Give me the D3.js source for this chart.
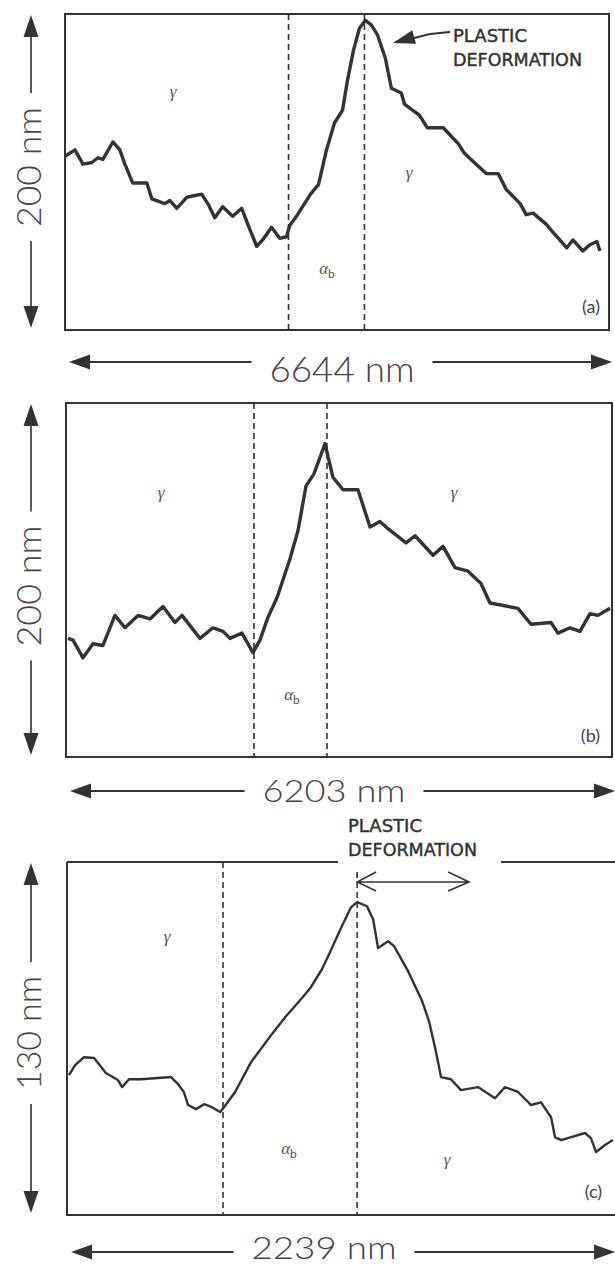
<!DOCTYPE html>
<html>
<head>
<meta charset="utf-8">
<script src="https://cdn.jsdelivr.net/npm/d3@7"></script>
<style>
  body { margin: 0; background: #fff; }
  svg { display: block; }
</style>
</head>
<body>
<div id="chart"></div>
<script>
// profile (a): distance along the scan (nm) and surface height (nm)
var aDist = [0, 122, 219, 329, 402, 463, 585, 670, 731, 828, 1000, 1060, 1219, 1280, 1365, 1487, 1670, 1755, 1829, 1926, 2048, 2158, 2255, 2341, 2414, 2523, 2621, 2706, 2743, 2840, 2999, 3096, 3194, 3291, 3389, 3450, 3523, 3596, 3669, 3742, 3815, 3913, 3986, 4108, 4145, 4328, 4425, 4620, 4803, 4876, 4998, 5144, 5290, 5388, 5559, 5632, 5717, 5876, 5958, 6129, 6203, 6325, 6410, 6496, 6533];
var aHeight = [110, 114, 105, 106, 109, 108, 119, 114, 105, 93, 93, 83, 80, 82, 77, 84, 86, 79, 71, 78, 72, 77, 64, 53, 57, 65, 58, 59, 66, 73, 86, 92, 114, 131, 139, 158, 177, 191, 196, 193, 187, 172, 153, 150, 143, 136, 128, 128, 118, 112, 106, 99, 99, 89, 80, 73, 74, 67, 62, 52, 57, 50, 54, 56, 50];
var aBounds = [2730, 3657];
var aSpan = 6644, aRange = 200;
var aXLabel = "6644 nm", aYLabel = "200 nm";

// profile (b)
var bDist = [23, 80, 193, 307, 420, 556, 670, 818, 954, 1102, 1238, 1318, 1522, 1670, 1784, 1863, 1999, 2124, 2204, 2295, 2397, 2545, 2636, 2726, 2817, 2942, 3033, 3147, 3317, 3454, 3567, 3658, 3863, 3965, 4170, 4283, 4419, 4567, 4715, 4817, 5135, 5283, 5510, 5589, 5726, 5839, 5953, 6044, 6180];
var bHeight = [67, 66, 56, 64, 63, 80, 73, 80, 78, 85, 76, 80, 67, 73, 71, 67, 70, 59, 66, 79, 90, 112, 128, 153, 160, 177, 158, 151, 151, 130, 133, 129, 121, 125, 114, 119, 107, 105, 98, 87, 84, 75, 76, 70, 73, 71, 81, 80, 84];
var bBounds = [2135, 2965];
var bSpan = 6203, bRange = 200;
var bXLabel = "6203 nm", bYLabel = "200 nm";

// profile (c)
var cDist = [8, 33, 69, 110, 158, 207, 224, 252, 301, 423, 451, 475, 492, 524, 557, 589, 622, 638, 683, 748, 829, 890, 955, 988, 1036, 1065, 1113, 1154, 1179, 1219, 1244, 1264, 1305, 1329, 1386, 1443, 1471, 1496, 1520, 1560, 1601, 1670, 1739, 1780, 1833, 1886, 1926, 1967, 1983, 2008, 2105, 2129, 2150, 2186, 2219];
var cHeight = [51.5, 55.2, 58.1, 57.8, 52.3, 49.7, 47.1, 50.0, 50.0, 50.8, 48.2, 45.3, 40.5, 39.0, 40.8, 39.7, 37.9, 39.7, 45.3, 56.3, 66.2, 73.2, 79.9, 83.5, 90.5, 96.0, 105.6, 113.3, 115.2, 113.7, 108.9, 98.3, 100.8, 99.0, 89.8, 78.8, 71.4, 61.5, 50.8, 50.0, 46.0, 47.1, 43.0, 47.1, 45.3, 40.5, 41.5, 36.0, 28.7, 27.6, 30.2, 28.3, 23.2, 25.8, 27.6];
var cBounds = [634, 1179];
var cPlastic = [1179, 1634];
var cSpan = 2239, cRange = 130;
var cXLabel = "2239 nm", cYLabel = "130 nm";

var ink = "#333";
var W = 615, H = 1266;

var svg = d3.select("#chart")
  .append("svg")
    .attr("width", W)
    .attr("height", H);

// filled arrow head, tip at (tx,ty), pointing along angle ang (radians)
function arrowHead(g, tx, ty, ang, len, wid) {
  var bx = tx - len * Math.cos(ang), by = ty - len * Math.sin(ang);
  var px = -Math.sin(ang) * wid / 2, py = Math.cos(ang) * wid / 2;
  g.append("path")
    .attr("d", "M" + tx + "," + ty + "L" + (bx + px) + "," + (by + py) + "L" + (bx - px) + "," + (by - py) + "Z")
    .attr("fill", ink);
}

var panels = [
  { dist: aDist, height: aHeight, bounds: aBounds, span: aSpan, range: aRange, xLabel: aXLabel, yLabel: aYLabel, tag: "(a)",
    left: 65, right: 609, top: 14, bottom: 330, lw: 3.4,
    xArrowY: 362, xBase: 382, xFont: 36, xLabelX: 342, xLabelLen: 145, yLabelY: 167, yLabelLen: 120,
    gammaL: [173, 97], gammaR: [409, 178], alpha: [327, 277], tagPos: [600, 313] },
  { dist: bDist, height: bHeight, bounds: bBounds, span: bSpan, range: bRange, xLabel: bXLabel, yLabel: bYLabel, tag: "(b)",
    left: 66, right: 612, top: 403, bottom: 757, lw: 3.4,
    xArrowY: 791, xBase: 802, xFont: 32, xLabelX: 334, xLabelLen: 143, yLabelY: 586, yLabelLen: 121,
    gammaL: [161, 498], gammaR: [454, 498], alpha: [292, 703], tagPos: [600, 742] },
  { dist: cDist, height: cHeight, bounds: cBounds, span: cSpan, range: cRange, xLabel: cXLabel, yLabel: cYLabel, tag: "(c)",
    left: 67, right: 618, top: 862, bottom: 1215, lw: 2.4, topGap: [338, 501], dashTop: [862, 872],
    xArrowY: 1252, xBase: 1259, xFont: 32, xLabelX: 324, xLabelLen: 145, yLabelY: 1033, yLabelLen: 114,
    gammaL: [167, 942], gammaR: [447, 1165], alpha: [289, 1157], tagPos: [602, 1198] }
];

panels.forEach(function(p) {
  var x = d3.scaleLinear().domain([0, p.span]).range([p.left, p.right]);
  var y = d3.scaleLinear().domain([0, p.range]).range([p.bottom, p.top]);
  var g = svg.append("g");

  // frame
  var frame = "M" + p.left + "," + p.top + "V" + p.bottom + "H" + p.right + "V" + p.top;
  if (p.topGap) {
    frame += "H" + p.topGap[1] + "M" + p.topGap[0] + "," + p.top + "H" + p.left;
  } else {
    frame += "Z";
  }
  g.append("path")
    .attr("d", frame)
    .attr("fill", "none")
    .attr("stroke", ink)
    .attr("stroke-width", 2);

  // phase boundaries
  g.selectAll(".bound")
    .data(p.bounds)
    .enter()
    .append("line")
      .attr("x1", function(d) { return x(d); })
      .attr("x2", function(d) { return x(d); })
      .attr("y1", function(d, i) { return p.dashTop ? p.dashTop[i] : p.top; })
      .attr("y2", p.bottom)
      .attr("stroke", ink)
      .attr("stroke-width", 1.6)
      .attr("stroke-dasharray", "6,4");

  // profile line
  g.append("path")
    .datum(d3.zip(p.dist, p.height))
    .attr("d", d3.line()
      .x(function(d) { return x(d[0]); })
      .y(function(d) { return y(d[1]); }))
    .attr("fill", "none")
    .attr("stroke", ink)
    .attr("stroke-width", p.lw)
    .attr("stroke-linejoin", "round");

  // vertical scale arrow
  var ax = 31, yTop = y(p.range) + 1, yBot = y(0) - 2;
  var gapV = p.yLabelLen / 2 + 14;
  g.append("line").attr("x1", ax).attr("x2", ax).attr("y1", yTop + 10).attr("y2", p.yLabelY - gapV)
    .attr("stroke", ink).attr("stroke-width", 1.6);
  g.append("line").attr("x1", ax).attr("x2", ax).attr("y1", p.yLabelY + gapV).attr("y2", yBot - 10)
    .attr("stroke", ink).attr("stroke-width", 1.6);
  arrowHead(g, ax, yTop, -Math.PI / 2, 22, 15);
  arrowHead(g, ax, yBot, Math.PI / 2, 22, 15);
  g.append("text")
    .attr("transform", "translate(" + (ax + 10) + "," + p.yLabelY + ") rotate(-90)")
    .attr("text-anchor", "middle")
    .attr("textLength", p.yLabelLen)
    .attr("lengthAdjust", "spacingAndGlyphs")
    .style("font-family", "Lato, 'Open Sans', sans-serif")
    .style("font-weight", 300)
    .style("font-size", "34px")
    .style("fill", "#444")
    .text(p.yLabel);

  // horizontal scale arrow
  var xL = x(0) + 4, xR = Math.min(x(p.span) + 3, W);
  var gapH = p.xLabelLen / 2 + 18;
  g.append("line").attr("x1", xL + 10).attr("x2", p.xLabelX - gapH).attr("y1", p.xArrowY).attr("y2", p.xArrowY)
    .attr("stroke", ink).attr("stroke-width", 2);
  g.append("line").attr("x1", p.xLabelX + gapH).attr("x2", xR - 10).attr("y1", p.xArrowY).attr("y2", p.xArrowY)
    .attr("stroke", ink).attr("stroke-width", 2);
  arrowHead(g, xL, p.xArrowY, Math.PI, 21, 15);
  arrowHead(g, xR, p.xArrowY, 0, 21, 15);
  g.append("text")
    .attr("x", p.xLabelX)
    .attr("y", p.xBase)
    .attr("text-anchor", "middle")
    .attr("textLength", p.xLabelLen)
    .attr("lengthAdjust", "spacingAndGlyphs")
    .style("font-family", "Lato, 'Open Sans', sans-serif")
    .style("font-weight", 300)
    .style("font-size", p.xFont + "px")
    .style("fill", "#444")
    .text(p.xLabel);

  // phase labels
  [p.gammaL, p.gammaR].forEach(function(pos) {
    g.append("text")
      .attr("x", pos[0]).attr("y", pos[1])
      .attr("text-anchor", "middle")
      .style("font-family", "'Liberation Serif', serif")
      .style("font-style", "italic")
      .style("font-size", "17px")
      .style("fill", "#555")
      .text("γ");
  });
  var al = g.append("text")
    .attr("x", p.alpha[0]).attr("y", p.alpha[1] - 3)
    .attr("text-anchor", "middle")
    .style("font-family", "'Liberation Serif', serif")
    .style("font-size", "17px")
    .style("fill", "#555");
  al.append("tspan").style("font-style", "italic").text("α");
  al.append("tspan").attr("dy", 4).style("font-family", "Lato, sans-serif").style("font-size", "12px").text("b");

  g.append("text")
    .attr("x", p.tagPos[0]).attr("y", p.tagPos[1])
    .attr("text-anchor", "end")
    .style("font-family", "Lato, 'Open Sans', sans-serif")
    .style("font-size", "18px")
    .style("fill", "#444")
    .text(p.tag);

  p.x = x; p.y = y; p.g = g;
});

// "PLASTIC DEFORMATION" notes
function plasticLabel(g, x0, y0) {
  [["PLASTIC", 74, 0], ["DEFORMATION", 129, 24]].forEach(function(t) {
    g.append("text")
      .attr("x", x0).attr("y", y0 + t[2])
      .attr("textLength", t[1])
      .attr("lengthAdjust", "spacingAndGlyphs")
      .style("font-family", "'DejaVu Sans Condensed', 'DejaVu Sans', sans-serif")
      .style("font-size", "18px")
      .style("fill", "#333")
      .style("stroke", "#333")
      .style("stroke-width", 0.4)
      .text(t[0]);
  });
}

var pa = panels[0];
plasticLabel(pa.g, 453, 42);
pa.g.append("path")
  .attr("d", "M450,32 L430,34 L414,38")
  .attr("fill", "none").attr("stroke", ink).attr("stroke-width", 2);
arrowHead(pa.g, 393, 43, Math.atan2(43 - 37, 393 - 414), 22, 14);

var pc = panels[2];
plasticLabel(pc.g, 348, 832);
var ay = 882, a0 = pc.x(cPlastic[0]), a1 = pc.x(cPlastic[1]);
pc.g.append("path")
  .attr("d", "M" + a0 + "," + ay + "H" + a1 +
             "M" + (a0 + 19) + "," + (ay - 10) + "L" + a0 + "," + ay + "L" + (a0 + 19) + "," + (ay + 9) +
             "M" + (a1 - 21) + "," + (ay - 10) + "L" + a1 + "," + ay + "L" + (a1 - 21) + "," + (ay + 9))
  .attr("fill", "none").attr("stroke", ink).attr("stroke-width", 1.5);
</script>
</body>
</html>
